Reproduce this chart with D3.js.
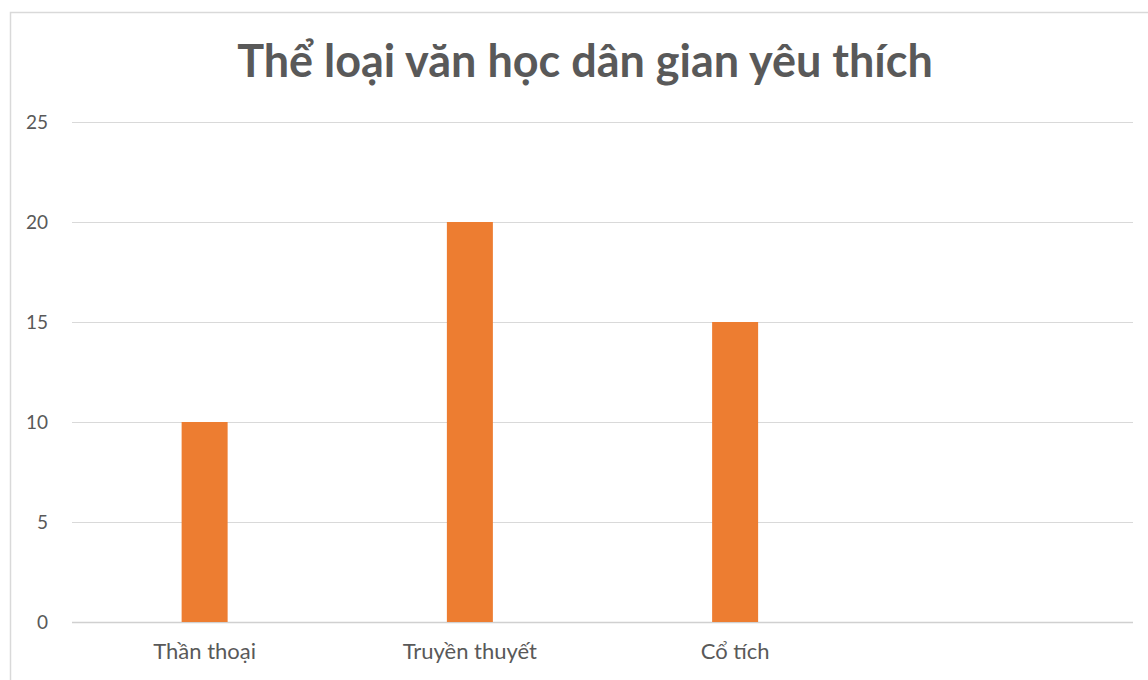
<!DOCTYPE html>
<html><head><meta charset="utf-8">
<script src="https://cdn.jsdelivr.net/npm/d3@7"></script>
<style>body{margin:0;background:#fff;} svg{display:block;}</style>
</head><body>
<svg id="c" width="1148" height="680"></svg>
<script>
const title = "Thể loại văn học dân gian yêu thích";
const categories = ["Thần thoại", "Truyền thuyết", "Cổ tích", ""];
const values = [10, 20, 15, null];
const yTicks = [0, 5, 10, 15, 20, 25];

const svg = d3.select("#c");
const W = 1148, H = 680;
const m = {left: 72, right: 15, top: 122, bottom: 58};
const font = "Lato, 'Open Sans', sans-serif";

// chart border
svg.append("rect").attr("x", 10.5).attr("y", 12.5).attr("width", W).attr("height", H)
  .attr("fill", "#fff").attr("stroke", "#d9d9d9").attr("stroke-width", 1.5);

const x = d3.scaleBand().domain(categories.map((d, i) => i)).range([m.left, W - m.right]).paddingInner(0).paddingOuter(0);
const y = d3.scaleLinear().domain([0, 25]).range([H - m.bottom, m.top]);

// gridlines
svg.append("g").selectAll("line").data(yTicks).join("line")
  .attr("x1", m.left).attr("x2", W - m.right)
  .attr("y1", d => Math.round(y(d)) + 0.5).attr("y2", d => Math.round(y(d)) + 0.5)
  .attr("stroke", d => d === 0 ? "#d0d0d0" : "#d9d9d9").attr("stroke-width", d => d === 0 ? 1.5 : 1);

// y tick labels
svg.append("g").selectAll("text").data(yTicks).join("text")
  .attr("x", 48).attr("y", d => y(d)).attr("dy", "0.35em")
  .attr("text-anchor", "end").attr("font-family", font).attr("font-size", 19)
  .attr("fill", "#595959").text(d => d);

// bars
const bw = 46;
svg.append("g").selectAll("rect").data(values.map((v, i) => ({v, i})).filter(d => d.v != null)).join("rect")
  .attr("x", d => x(d.i) + x.bandwidth() / 2 - bw / 2)
  .attr("width", bw)
  .attr("y", d => y(d.v))
  .attr("height", d => y(0) - y(d.v))
  .attr("fill", "#ED7D31");

// x labels
svg.append("g").selectAll("text").data(categories).join("text")
  .attr("x", (d, i) => x(i) + x.bandwidth() / 2).attr("y", y(0) + 37)
  .attr("text-anchor", "middle").attr("font-family", font).attr("font-size", 22)
  .attr("fill", "#595959").text(d => d);

// title
const t = svg.append("text").attr("x", 585).attr("y", 77).attr("text-anchor", "middle")
  .attr("font-family", font).attr("font-weight", "bold").attr("font-size", 40)
  .attr("fill", "#595959").text(title);
const tw = t.node().getComputedTextLength();
t.attr("font-size", 40 * 696 / tw);
</script>
</body></html>
